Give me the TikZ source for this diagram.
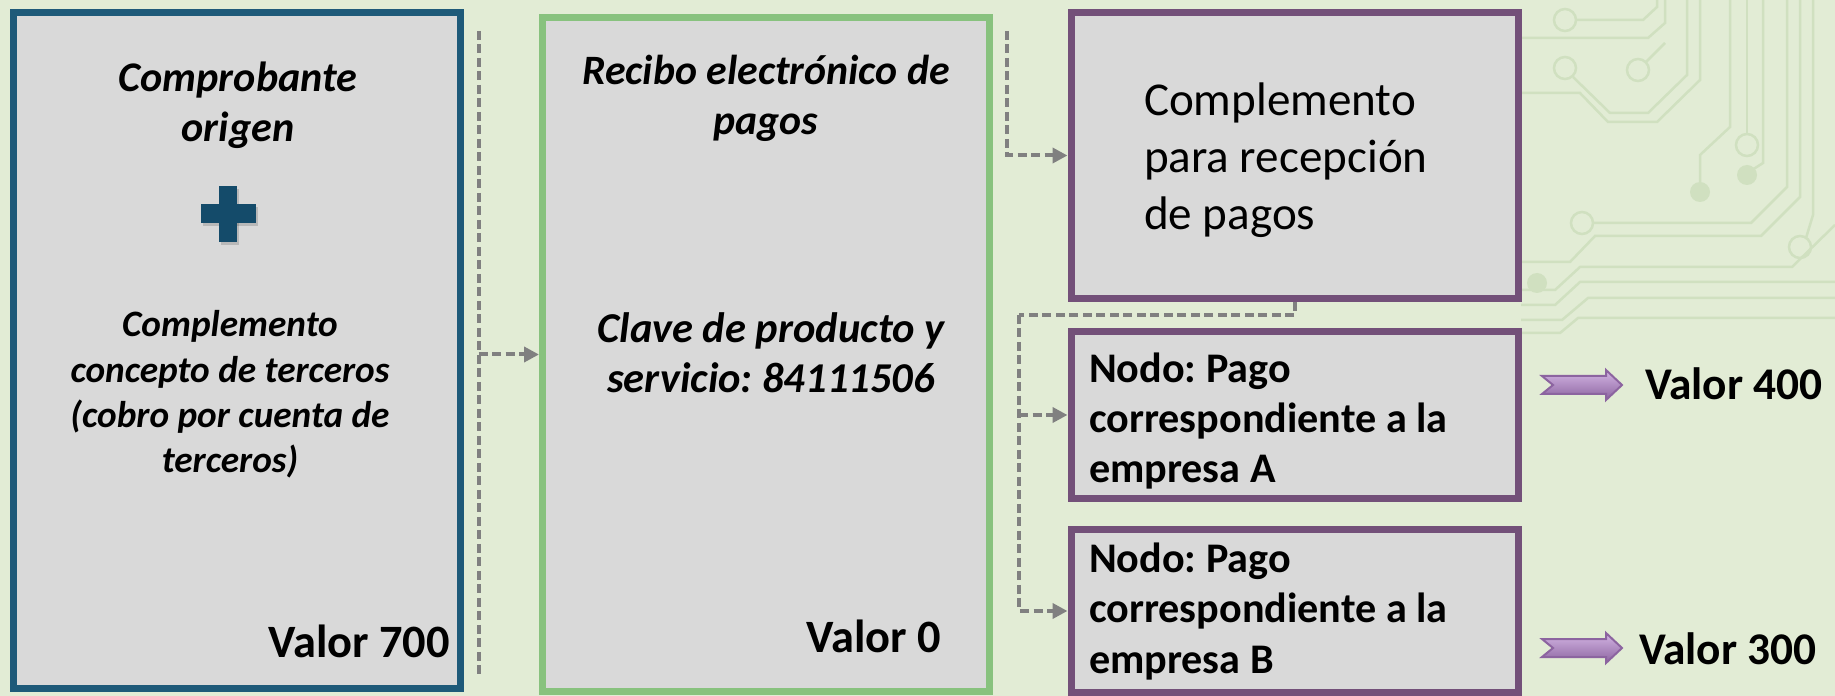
\documentclass[tikz,border=0pt]{standalone}
\usepackage{fontspec}
\setmainfont{Carlito}
\usepackage{tikz}
\usetikzlibrary{backgrounds}
\usetikzlibrary{positioning}
\usetikzlibrary{arrows.meta}
\definecolor{fondo}{RGB}{226,236,213}
\definecolor{pistas}{RGB}{208,224,192}
\definecolor{relleno}{RGB}{217,217,217}
\definecolor{azul}{RGB}{30,90,121}
\definecolor{cruz}{RGB}{20,75,106}
\definecolor{verde}{RGB}{136,194,126}
\definecolor{morado}{RGB}{115,80,121}
\definecolor{gris}{RGB}{128,128,128}
\definecolor{lilaclaro}{RGB}{212,182,228}
\definecolor{lilaoscuro}{RGB}{140,100,160}
\frenchspacing

\begin{document}
\begin{tikzpicture}[
            > = {Triangle[length=1.5mm, width=1.5mm]}, % arrow head style
            node distance = 0.25cm, % distance between boxes
            semithick % line style
        ]

        \tikzstyle{caja}=[
            draw,
            line width = 0.7mm,
            fill = relleno,
            minimum width = 4.47cm,
            inner sep = 0pt
        ]
        \tikzstyle{conector}=[
            draw = gris,
            line width = 0.4mm,
            dash pattern = on 0.9mm off 0.45mm
        ]
        \tikzstyle{texto}=[
            inner sep = 0pt,
            align = center,
            anchor = base
        ]
        \tikzstyle{pista}=[
            draw = pistas,
            line width = 0.25mm
        ]
        \tikzstyle{flecha}=[
            top color = lilaclaro,
            bottom color = lilaoscuro,
            draw = lilaoscuro,
            line width = 0.2mm
        ]

        \useasboundingbox (0,0) rectangle (18.35,-6.96);

        % comprobante origen (base = last line)
        \node[caja, draw = azul, minimum height = 6.76cm] (CO) at (2.37,-3.505) {};
        \node[texto, font = \fontsize{12}{14.5}\selectfont\bfseries\itshape] (COt) at (2.38,-1.42) {Comprobante\\origen};
        \fill[black, opacity = 0.15] (2.027,-2.07) rectangle (2.58,-2.26);
        \fill[black, opacity = 0.15] (2.21,-1.89) rectangle (2.39,-2.45);
        \fill[cruz] (2.007,-2.04) rectangle (2.56,-2.23);
        \fill[cruz] (2.19,-1.86) rectangle (2.37,-2.42);
        \node[texto, font = \fontsize{10.6}{12.9}\selectfont\bfseries\itshape] (COc) at (2.30,-4.73) {Complemento\\concepto de terceros\\(cobro por cuenta de\\terceros)};
        \node[texto, anchor = base east, font = \fontsize{13.2}{16}\selectfont\bfseries] (COv) at (4.51,-6.57) {Valor 700};

        % recibo
        \node[caja, draw = verde, minimum height = 6.74cm] (CR) at (7.66,-3.545) {};
        \node[texto, font = \fontsize{11.9}{14.5}\selectfont\bfseries\itshape] (CRt) at (7.66,-1.35) {Recibo electrónico de\\pagos};
        \node[texto, font = \fontsize{12.1}{14.5}\selectfont\bfseries\itshape] (CRc) at (7.71,-3.93) {Clave de producto y\\servicio: 84111506};
        \node[texto, anchor = base east, font = \fontsize{13.2}{16}\selectfont\bfseries] (CRv) at (9.42,-6.52) {Valor 0};

        % complemento y nodos
        \node[caja, draw = morado, minimum height = 2.86cm] (CP) at (12.945,-1.555) {};
        \node[caja, draw = morado, minimum height = 1.67cm] (PA) [below = 0.26cm of CP] {};
        \node[caja, draw = morado, minimum height = 1.63cm] (PB) [below = 0.24cm of PA] {};
        \node[texto, anchor = base west, align = left, font = \fontsize{13.4}{16.3}\selectfont] (CPt) at (11.43,-2.30) {Complemento\\para recepción\\de pagos};
        \node[texto, anchor = base west, align = left, font = \fontsize{12}{14.3}\selectfont\bfseries] (PAt) at (10.88,-4.83) {Nodo: Pago\\correspondiente a la\\empresa A};
        \node[texto, anchor = base west, align = left, font = \fontsize{12}{14.3}\selectfont\bfseries] (PBt) at (10.88,-6.73) {Nodo: Pago\\correspondiente a la\\empresa B};

        % connectors
        \coordinate (T1) at (4.786,-0.31);
        \coordinate (U1) at (4.786,-6.77);
        \draw[conector] (T1) -- (U1);
        \draw[conector,->] (T1 |- CR.west) -- (CR.west);

        \coordinate (T2) at (10.07,-0.31);
        \draw[conector,->] (T2) |- (CP.west);

        \coordinate (Q) at (10.19,-3.15);
        \draw[conector] (CP.south) |- (Q);
        \draw[conector,->] (Q) |- (PB.west);
        \draw[conector,->] (Q |- PA.west) -- (PA.west);

        % values
        \shade[flecha] (15.42,-3.76) -- (16.06,-3.76) -- (16.06,-3.70) -- (16.22,-3.85) -- (16.06,-4.00) -- (16.06,-3.94) -- (15.42,-3.94) -- (15.53,-3.85) -- cycle;
        \node[texto, anchor = base west, font = \fontsize{12.9}{15}\selectfont\bfseries] (V4) at (16.44,-4.00) {Valor 400};
        \shade[flecha] (15.42,-6.39) -- (16.06,-6.39) -- (16.06,-6.33) -- (16.22,-6.48) -- (16.06,-6.63) -- (16.06,-6.57) -- (15.42,-6.57) -- (15.53,-6.48) -- cycle;
        \node[texto, anchor = base west, font = \fontsize{12.9}{15}\selectfont\bfseries] (V3) at (16.38,-6.64) {Valor 300};

   \begin{scope}[on background layer]
   \fill[fondo] (0,0) rectangle (18.35,-6.96);
   % circuit traces
   \draw[pista] (15.65,-0.20) circle (0.11);
   \draw[pista] (15.76,-0.20) -- (16.43,-0.20) -- (16.57,-0.07) -- (16.57,0);
   \draw[pista] (15.21,-0.38) -- (16.48,-0.38) -- (16.65,-0.23) -- (16.65,0);
   \draw[pista] (15.65,-0.68) circle (0.11);
   \draw[pista] (15.73,-0.77) -- (16.10,-1.13) -- (16.48,-1.13) -- (16.87,-0.75) -- (16.87,0);
   \draw[pista] (16.38,-0.70) circle (0.11);
   \draw[pista] (16.46,-0.62) -- (16.65,-0.43);
   \draw[pista] (15.21,-0.93) -- (15.80,-0.93) -- (16.08,-1.22) -- (16.57,-1.22) -- (17.00,-0.80) -- (17.00,0);
   \draw[pista] (17.30,0) -- (17.30,-1.27) -- (17.00,-1.55) -- (17.00,-1.82);
   \fill[pistas] (17.00,-1.92) circle (0.1);
   \draw[pista] (17.47,0) -- (17.47,-1.34);
   \draw[pista] (17.47,-1.45) circle (0.11);
   \draw[pista] (17.63,0) -- (17.63,-1.63) -- (17.52,-1.70);
   \fill[pistas] (17.47,-1.75) circle (0.1);
   \draw[pista] (17.87,0) -- (17.87,-1.87) -- (17.51,-2.23) -- (15.93,-2.23);
   \draw[pista] (15.82,-2.23) circle (0.11);
   \draw[pista] (18.00,0) -- (18.00,-1.97) -- (17.61,-2.36) -- (15.95,-2.36) -- (15.70,-2.62) -- (15.21,-2.62);
   \draw[pista] (18.13,0) -- (18.13,-2.15) -- (18.06,-2.38);
   \draw[pista] (18.00,-2.47) circle (0.11);
   \draw[pista] (15.21,-2.90) -- (15.55,-2.90) -- (15.80,-2.67) -- (17.92,-2.67) -- (18.35,-2.25);
   \draw[pista] (15.21,-3.05) -- (15.55,-3.05) -- (15.80,-2.82) -- (18.35,-2.82);
   \draw[pista] (15.21,-3.20) -- (15.62,-3.20) -- (15.88,-2.98) -- (18.35,-2.98);
   \draw[pista] (15.21,-3.33) -- (15.60,-3.33) -- (15.78,-3.18) -- (18.35,-3.18);
   \fill[pistas] (15.37,-2.83) circle (0.1);
   \end{scope}

\end{tikzpicture}
\end{document}
